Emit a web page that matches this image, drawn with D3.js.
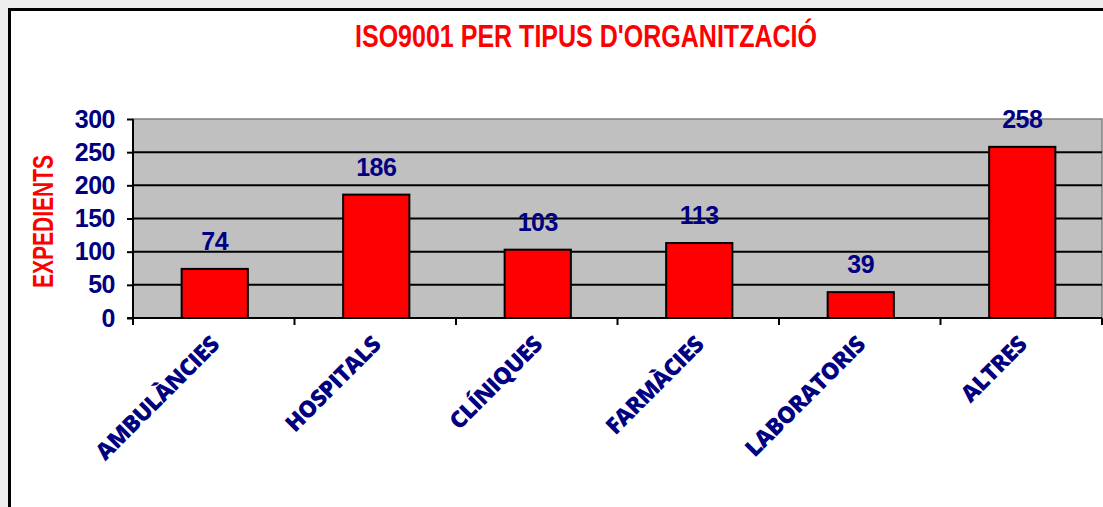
<!DOCTYPE html>
<html>
<head>
<meta charset="utf-8">
<script src="https://cdn.jsdelivr.net/npm/d3@7"></script>
<style>
  html, body { margin: 0; padding: 0; background: #eeeeee; overflow: hidden; }
  svg { display: block; }
</style>
</head>
<body>
<div id="chart"></div>
<script>
// data
var categories = ["AMBULÀNCIES", "HOSPITALS", "CLÍNIQUES", "FARMÀCIES", "LABORATORIS", "ALTRES"];
var values = [74, 186, 103, 113, 39, 258];
var yTicks = [0, 50, 100, 150, 200, 250, 300];
var title = "ISO9001 PER TIPUS D'ORGANITZACIÓ";
var yTitle = "EXPEDIENTS";

var W = 1103, H = 507;
var plot = {left: 133, right: 1102, top: 119, bottom: 318};

var svg = d3.select("#chart").append("svg")
    .attr("width", W)
    .attr("height", H);

// white chart frame, runs off the right/bottom of the window
svg.append("rect")
    .attr("x", 9.5).attr("y", 9.5)
    .attr("width", W + 20).attr("height", H + 20)
    .attr("fill", "#fff")
    .attr("stroke", "#000")
    .attr("stroke-width", 3);

var x = d3.scaleBand()
    .domain(categories)
    .range([plot.left, plot.right])
    .paddingInner(0.59)
    .paddingOuter(0.295);

var y = d3.scaleLinear()
    .domain([0, 300])
    .range([plot.bottom, plot.top]);

// plot area
svg.append("rect")
    .attr("x", plot.left).attr("y", plot.top)
    .attr("width", plot.right - plot.left)
    .attr("height", plot.bottom - plot.top)
    .attr("fill", "#c0c0c0")
    .attr("stroke", "#808080")
    .attr("stroke-width", 1.5);

// gridlines
svg.append("g").selectAll("line")
    .data(yTicks.filter(function(d) { return d > 0 && d < 300; }))
    .enter().append("line")
    .attr("x1", plot.left).attr("x2", plot.right)
    .attr("y1", function(d) { return y(d); })
    .attr("y2", function(d) { return y(d); })
    .attr("stroke", "#000")
    .attr("stroke-width", 2);

// bars
svg.append("g").selectAll("rect")
    .data(values)
    .enter().append("rect")
    .attr("x", function(d, i) { return x(categories[i]) + 1; })
    .attr("width", x.bandwidth())
    .attr("y", function(d) { return y(d); })
    .attr("height", function(d) { return y(0) - y(d); })
    .attr("fill", "#ff0000")
    .attr("stroke", "#000")
    .attr("stroke-width", 2);

// value labels
svg.append("g").selectAll("text")
    .data(values)
    .enter().append("text")
    .attr("x", function(d, i) { return x(categories[i]) + x.bandwidth() / 2 + 1; })
    .attr("y", function(d) { return y(d) - 19; })
    .attr("text-anchor", "middle")
    .attr("font-family", "'Liberation Sans', Arial, sans-serif")
    .attr("font-weight", "bold")
    .attr("font-size", 25)
    .attr("letter-spacing", -0.5)
    .attr("fill", "#000080")
    .text(function(d) { return d; });

// y axis
var yAxis = svg.append("g")
    .attr("transform", "translate(" + plot.left + ",0)")
    .call(d3.axisLeft(y).tickValues(yTicks).tickSize(6).tickPadding(12));
yAxis.select(".domain").attr("stroke", "#000").attr("stroke-width", 2)
    .attr("d", "M0," + plot.top + "V" + plot.bottom);
yAxis.selectAll(".tick line").attr("stroke", "#000").attr("stroke-width", 2);
yAxis.selectAll(".tick text")
    .attr("font-family", "'Liberation Sans', Arial, sans-serif")
    .attr("font-weight", "bold")
    .attr("font-size", 25)
    .attr("letter-spacing", -0.5)
    .attr("fill", "#000080");

// x axis, ticks on band edges
var xEdges = d3.range(categories.length + 1).map(function(i) {
    return plot.left + i * x.step();
});
svg.append("line")
    .attr("x1", plot.left - 6).attr("x2", plot.right)
    .attr("y1", plot.bottom).attr("y2", plot.bottom)
    .attr("stroke", "#000").attr("stroke-width", 2);
svg.append("g").selectAll("line")
    .data(xEdges)
    .enter().append("line")
    .attr("x1", function(d) { return d; })
    .attr("x2", function(d) { return d; })
    .attr("y1", plot.bottom).attr("y2", plot.bottom + 7)
    .attr("stroke", "#000").attr("stroke-width", 2);

svg.append("g").selectAll("text")
    .data(categories)
    .enter().append("text")
    .attr("transform", function(d) {
        return "translate(" + (x(d) + x.bandwidth() / 2 + 7) + "," + (plot.bottom + 28) + ") rotate(-45)";
    })
    .attr("text-anchor", "end")
    .attr("font-family", "'Open Sans', sans-serif")
    .attr("font-weight", 800)
    .attr("font-size", 23)
    .attr("letter-spacing", -0.6)
    .attr("fill", "#000080")
    .text(function(d) { return d; });

// titles
svg.append("text")
    .attr("x", 355).attr("y", 47)
    .attr("textLength", 462)
    .attr("lengthAdjust", "spacingAndGlyphs")
    .attr("font-family", "'Liberation Sans', Arial, sans-serif")
    .attr("font-weight", "bold")
    .attr("font-size", 31)
    .attr("fill", "#ff0000")
    .text(title);

svg.append("text")
    .attr("transform", "translate(53,288) rotate(-90)")
    .attr("textLength", 133)
    .attr("lengthAdjust", "spacingAndGlyphs")
    .attr("font-family", "'Liberation Sans', Arial, sans-serif")
    .attr("font-weight", "bold")
    .attr("font-size", 29)
    .attr("fill", "#ff0000")
    .text(yTitle);
</script>
</body>
</html>
